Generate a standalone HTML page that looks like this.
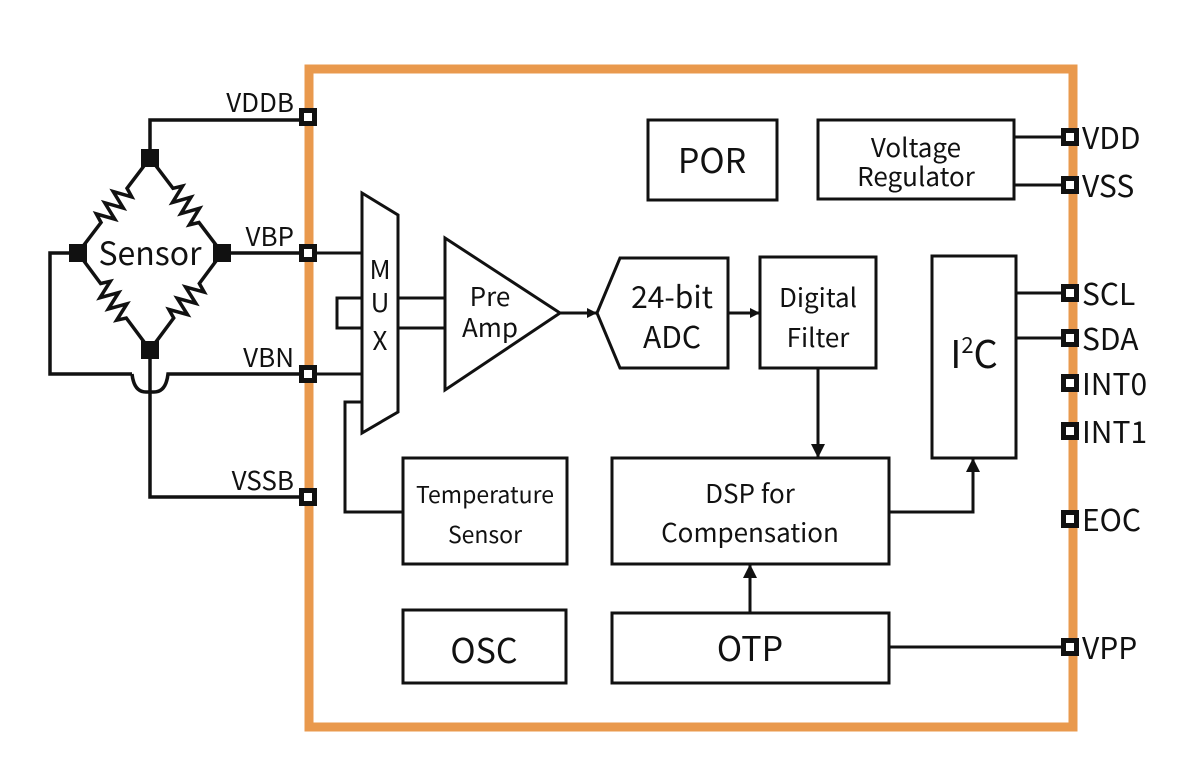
<!DOCTYPE html>
<html><head><meta charset="utf-8"><style>html,body{margin:0;padding:0;background:#fff}svg{display:block}text{font-family:"Noto Sans CJK SC","Liberation Sans",sans-serif;fill:#111}</style></head><body>
<svg width="1200" height="772" viewBox="0 0 1200 772" xmlns="http://www.w3.org/2000/svg">
<defs><marker id="ar" markerWidth="10" markerHeight="10" refX="9" refY="5" orient="auto" markerUnits="userSpaceOnUse"><path d="M0,0 L10,5 L0,10 z" fill="#111"/></marker>
<marker id="ar2" markerWidth="14" markerHeight="14" refX="13" refY="7" orient="auto" markerUnits="userSpaceOnUse"><path d="M0,0 L14,7 L0,14 z" fill="#111"/></marker>
<path id="res" d="M0,0 L38,0 l4,-9 l7,18 l7,-18 l7,18 l7,-18 l7,18 l4,-9 L120,0"/></defs>
<rect x="309" y="69" width="764" height="658" fill="none" stroke="#E9994D" stroke-width="9"/>
<g stroke="#111" stroke-width="3.5" fill="none">
<polyline points="150,158 150,120 300,120"/>
<line x1="222" y1="253" x2="300" y2="253"/>
<polyline points="78,253 50,253 50,374 132,374"/>
<path d="M132,374 Q134,392 146,392 L154,392 Q166,392 168,374 L300,374"/>
<polyline points="150,350 150,497 300,497"/>
<use href="#res" transform="translate(150,158) rotate(127.2)"/>
<use href="#res" transform="translate(150,158) rotate(52.8)"/>
<use href="#res" transform="translate(78,253) rotate(53.4)"/>
<use href="#res" transform="translate(222,253) rotate(126.6)"/>
</g>
<g stroke="#111" stroke-width="3" fill="none">
<polygon points="362,193 398,215 398,412 362,433"/>
<line x1="315" y1="253" x2="362" y2="253"/>
<line x1="315" y1="374" x2="362" y2="374"/>
<polyline points="362,298 337,298 337,328 362,328"/>
<line x1="398" y1="298" x2="445" y2="298"/>
<line x1="398" y1="328" x2="445" y2="328"/>
<polyline points="362,402 345,402 345,512 403,512"/>
<polygon points="445,238 445,390 560,313"/>
<line x1="560" y1="313" x2="596" y2="313" marker-end="url(#ar)"/>
<polygon points="597,313 620,258 728,258 728,368 620,368"/>
<line x1="728" y1="313" x2="759" y2="313" marker-end="url(#ar)"/>
<rect x="760" y="257" width="116" height="111"/>
<line x1="818" y1="368" x2="818" y2="457" marker-end="url(#ar2)"/>
<rect x="612" y="458" width="277" height="106"/>
<polyline points="889,512 973,512 973,459" marker-end="url(#ar2)"/>
<rect x="932" y="256" width="84" height="202"/>
<rect x="403" y="458" width="164" height="106"/>
<rect x="403" y="610" width="163" height="73"/>
<rect x="612" y="613" width="277" height="70"/>
<line x1="750" y1="613" x2="750" y2="565" marker-end="url(#ar2)"/>
<line x1="889" y1="647" x2="1063" y2="647"/>
<rect x="648" y="120" width="129" height="80"/>
<rect x="818" y="120" width="196" height="79"/>
<line x1="1014" y1="137" x2="1063" y2="137"/>
<line x1="1014" y1="185" x2="1063" y2="185"/>
<line x1="1016" y1="293" x2="1063" y2="293"/>
<line x1="1016" y1="338" x2="1063" y2="338"/>
</g>
<g fill="#111">
<rect x="141" y="149" width="18" height="18"/><rect x="69" y="244" width="18" height="18"/>
<rect x="213" y="244" width="18" height="18"/><rect x="141" y="341" width="18" height="18"/>
</g>
<g fill="#fff" stroke="#111" stroke-width="5">
<rect x="301.5" y="110.5" width="13" height="13"/><rect x="301.5" y="246.5" width="13" height="13"/>
<rect x="301.5" y="367.5" width="13" height="13"/><rect x="301.5" y="490.5" width="13" height="13"/>
<rect x="1063.5" y="130.5" width="13" height="13"/><rect x="1063.5" y="178.5" width="13" height="13"/>
<rect x="1063.5" y="286.5" width="13" height="13"/><rect x="1063.5" y="331.5" width="13" height="13"/>
<rect x="1063.5" y="376.5" width="13" height="13"/><rect x="1063.5" y="424.5" width="13" height="13"/>
<rect x="1063.5" y="512.5" width="13" height="13"/><rect x="1063.5" y="640.5" width="13" height="13"/>
</g>
<g font-size="26" text-anchor="end">
<text x="294" y="112">VDDB</text><text x="294" y="246">VBP</text>
<text x="294" y="367">VBN</text><text x="294" y="490">VSSB</text>
</g>
<g font-size="30">
<text x="1082" y="149">VDD</text><text x="1082" y="197">VSS</text>
<text x="1082" y="305">SCL</text><text x="1082" y="350">SDA</text>
<text x="1082" y="395">INT0</text><text x="1082" y="443">INT1</text>
<text x="1082" y="531">EOC</text><text x="1082" y="659">VPP</text>
</g>
<g text-anchor="middle">
<text x="150" y="265" font-size="32">Sensor</text>
<text x="380" y="279" font-size="26">M</text><text x="380" y="312" font-size="26">U</text><text x="380" y="350" font-size="26">X</text>
<text x="490" y="306" font-size="26">Pre</text><text x="490" y="337" font-size="26">Amp</text>
<text x="672" y="308" font-size="30">24-bit</text><text x="672" y="348" font-size="30">ADC</text>
<text x="818" y="307" font-size="26">Digital</text><text x="818" y="347" font-size="26">Filter</text>
<text x="750" y="503" font-size="26">DSP for</text><text x="750" y="542" font-size="26">Compensation</text>
<text x="485" y="503" font-size="23">Temperature</text><text x="485" y="543" font-size="23">Sensor</text>
<text x="484" y="663" font-size="34">OSC</text>
<text x="750" y="661" font-size="34">OTP</text>
<text x="712" y="173" font-size="34">POR</text>
<text x="916" y="157" font-size="26">Voltage</text><text x="916" y="186" font-size="26">Regulator</text>
<text x="974" y="368" font-size="38">I<tspan font-size="22" dy="-15">2</tspan><tspan dy="15">C</tspan></text>
</g>
</svg>
</body></html>
